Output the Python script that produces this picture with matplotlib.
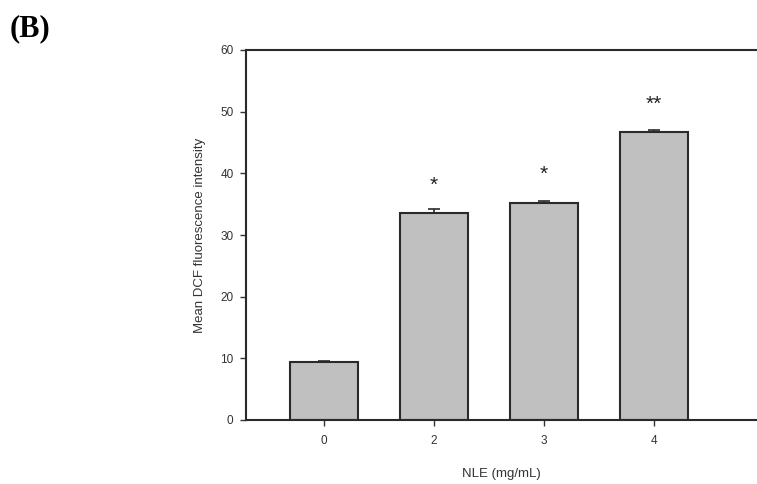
import matplotlib
matplotlib.use("Agg")
import matplotlib.pyplot as plt

categories = ["0", "2", "3", "4"]
means = [9.45, 33.6, 35.2, 46.7]
errors = [0.15, 0.6, 0.3, 0.4]
stars = ["", "*", "*", "**"]
star_y = [None, 38.0, 39.8, 51.2]
yticks = [0, 10, 20, 30, 40, 50, 60]

plt.rcParams['font.family'] = ['Liberation Sans', 'DejaVu Sans']
fig = plt.figure(figsize=(7.57, 4.84), dpi=100)
ax = fig.add_axes([246/757, 1-420/484, 1-246/757, (420-50)/484])

x = list(range(len(categories)))
ax.bar(x, means, width=0.61, color="#c0c0c0", edgecolor="#2a2a2a", linewidth=1.5, zorder=2)
ax.errorbar(x, means, yerr=[[0]*len(errors), errors], fmt="none", ecolor="#2a2a2a",
            elinewidth=1.2, capsize=4, capthick=1.2, zorder=3)
for xi, s, sy in zip(x, stars, star_y):
    if s:
        ax.text(xi, sy, s, ha="center", va="center", fontsize=15, color="#222222")

ax.set_xlim(-0.709, 3.936)
ax.set_ylim(0, 60)
ax.set_xticks(x)
ax.set_xticklabels(categories)
ax.set_yticks(yticks)
ax.tick_params(axis="both", direction="out", length=4, width=1, colors="#333333",
               labelsize=8.5, labelcolor="#333333")
ax.tick_params(axis="x", pad=7)
ax.tick_params(axis="y", pad=5)
for side in ["left", "bottom", "top"]:
    ax.spines[side].set_linewidth(1.5)
    ax.spines[side].set_color("#2a2a2a")
ax.spines["right"].set_visible(False)

ax.set_ylabel("Mean DCF fluorescence intensity", fontsize=9.5, color="#333333", labelpad=10)
ax.set_xlabel("NLE (mg/mL)", fontsize=9.5, color="#333333", labelpad=15)

fig.text(10/757, 1-29/484, "(B)", fontsize=22, fontweight="bold",
         family="Liberation Serif", va="center", ha="left")

fig.savefig("out.png", dpi=100)
